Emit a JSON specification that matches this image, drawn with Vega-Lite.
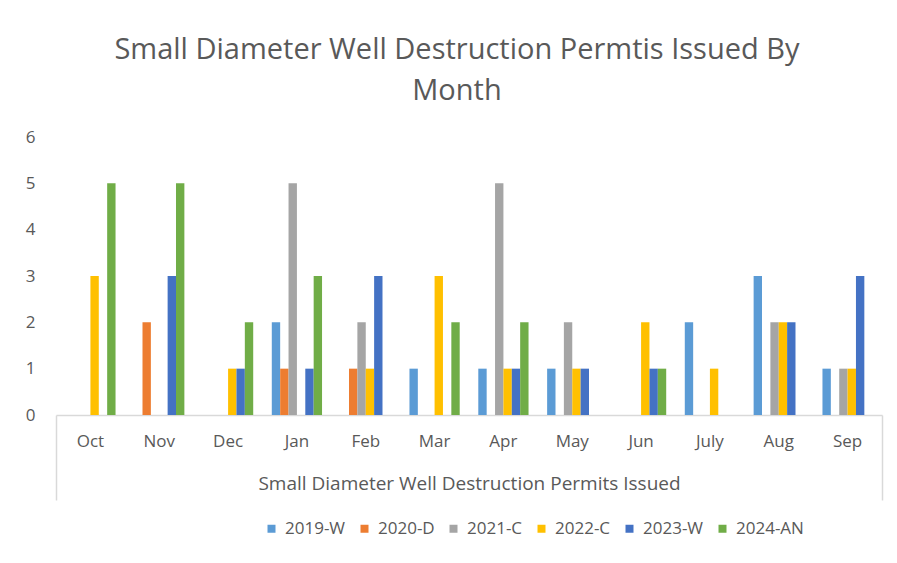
{
  "$schema": "https://vega.github.io/schema/vega-lite/v6.json",
  "autosize": {"type": "none"},
  "padding": {"left": 56, "top": 137, "right": 15, "bottom": 148},
  "width": 826,
  "height": 278,
  "background": "white",
  "title": {
    "text": ["Small Diameter Well Destruction Permtis Issued By", "Month"],
    "font": "Open Sans",
    "fontSize": 29,
    "fontWeight": "normal",
    "color": "#595959",
    "lineHeight": 41,
    "anchor": "middle",
    "dx": -12,
    "offset": 22
  },
  "config": {
    "view": {"stroke": null},
    "font": "Open Sans"
  },
  "layer": [
    {
      "data": {
        "values": [
          {"month": "Oct", "series": "2022-C", "permits": 3},
          {"month": "Oct", "series": "2024-AN", "permits": 5},
          {"month": "Nov", "series": "2020-D", "permits": 2},
          {"month": "Nov", "series": "2023-W", "permits": 3},
          {"month": "Nov", "series": "2024-AN", "permits": 5},
          {"month": "Dec", "series": "2022-C", "permits": 1},
          {"month": "Dec", "series": "2023-W", "permits": 1},
          {"month": "Dec", "series": "2024-AN", "permits": 2},
          {"month": "Jan", "series": "2019-W", "permits": 2},
          {"month": "Jan", "series": "2020-D", "permits": 1},
          {"month": "Jan", "series": "2021-C", "permits": 5},
          {"month": "Jan", "series": "2023-W", "permits": 1},
          {"month": "Jan", "series": "2024-AN", "permits": 3},
          {"month": "Feb", "series": "2020-D", "permits": 1},
          {"month": "Feb", "series": "2021-C", "permits": 2},
          {"month": "Feb", "series": "2022-C", "permits": 1},
          {"month": "Feb", "series": "2023-W", "permits": 3},
          {"month": "Mar", "series": "2019-W", "permits": 1},
          {"month": "Mar", "series": "2022-C", "permits": 3},
          {"month": "Mar", "series": "2024-AN", "permits": 2},
          {"month": "Apr", "series": "2019-W", "permits": 1},
          {"month": "Apr", "series": "2021-C", "permits": 5},
          {"month": "Apr", "series": "2022-C", "permits": 1},
          {"month": "Apr", "series": "2023-W", "permits": 1},
          {"month": "Apr", "series": "2024-AN", "permits": 2},
          {"month": "May", "series": "2019-W", "permits": 1},
          {"month": "May", "series": "2021-C", "permits": 2},
          {"month": "May", "series": "2022-C", "permits": 1},
          {"month": "May", "series": "2023-W", "permits": 1},
          {"month": "Jun", "series": "2022-C", "permits": 2},
          {"month": "Jun", "series": "2023-W", "permits": 1},
          {"month": "Jun", "series": "2024-AN", "permits": 1},
          {"month": "July", "series": "2019-W", "permits": 2},
          {"month": "July", "series": "2022-C", "permits": 1},
          {"month": "Aug", "series": "2019-W", "permits": 3},
          {"month": "Aug", "series": "2021-C", "permits": 2},
          {"month": "Aug", "series": "2022-C", "permits": 2},
          {"month": "Aug", "series": "2023-W", "permits": 2},
          {"month": "Sep", "series": "2019-W", "permits": 1},
          {"month": "Sep", "series": "2021-C", "permits": 1},
          {"month": "Sep", "series": "2022-C", "permits": 1},
          {"month": "Sep", "series": "2023-W", "permits": 3}
        ]
      },
      "mark": {"type": "bar"},
      "encoding": {
        "x": {
          "field": "month",
          "type": "nominal",
          "sort": ["Oct", "Nov", "Dec", "Jan", "Feb", "Mar", "Apr", "May", "Jun", "July", "Aug", "Sep"],
          "scale": {
            "domain": ["Oct", "Nov", "Dec", "Jan", "Feb", "Mar", "Apr", "May", "Jun", "July", "Aug", "Sep"],
            "paddingInner": 0.27,
            "paddingOuter": 0.135
          },
          "axis": {
            "title": null,
            "labelAngle": 0,
            "ticks": false,
            "domainColor": "#d9d9d9",
            "domainWidth": 1.5,
            "labelColor": "#595959",
            "labelFontSize": 17,
            "labelPadding": 18
          }
        },
        "xOffset": {
          "field": "series",
          "type": "nominal",
          "scale": {
            "domain": ["2019-W", "2020-D", "2021-C", "2022-C", "2023-W", "2024-AN"],
            "paddingInner": 0,
            "paddingOuter": 0
          }
        },
        "y": {
          "field": "permits",
          "type": "quantitative",
          "scale": {"domain": [0, 6], "nice": false},
          "axis": {
            "title": null,
            "values": [0, 1, 2, 3, 4, 5, 6],
            "grid": false,
            "domain": false,
            "ticks": false,
            "labelColor": "#595959",
            "labelFontSize": 17,
            "labelPadding": 21
          }
        },
        "color": {
          "field": "series",
          "type": "nominal",
          "scale": {
            "domain": ["2019-W", "2020-D", "2021-C", "2022-C", "2023-W", "2024-AN"],
            "range": ["#5B9BD5", "#ED7D31", "#A5A5A5", "#FFC000", "#4472C4", "#70AD47"]
          },
          "legend": {
            "title": null,
            "orient": "none",
            "direction": "horizontal",
            "legendX": 207,
            "legendY": 383,
            "symbolType": "square",
            "symbolSize": 64,
            "symbolStrokeWidth": 0,
            "labelFontSize": 17,
            "labelColor": "#595959",
            "labelOffset": 5,
            "columnPadding": 10
          }
        }
      }
    },
    {
      "data": {"values": [{"group": "Small Diameter Well Destruction Permits Issued"}]},
      "mark": {"type": "tick", "opacity": 0},
      "encoding": {
        "x": {
          "field": "group",
          "type": "nominal",
          "scale": {"paddingInner": 0, "paddingOuter": 0},
          "axis": {
            "orient": "bottom",
            "title": null,
            "labelAngle": 0,
            "domain": false,
            "tickBand": "extent",
            "tickSize": 85,
            "tickColor": "#d9d9d9",
            "tickWidth": 1.5,
            "labelColor": "#595959",
            "labelFontSize": 19,
            "labelPadding": -17,
            "labelBaseline": "middle",
            "labelLimit": 800
          }
        }
      }
    }
  ],
  "resolve": {"scale": {"x": "independent"}, "axis": {"x": "independent"}}
}
